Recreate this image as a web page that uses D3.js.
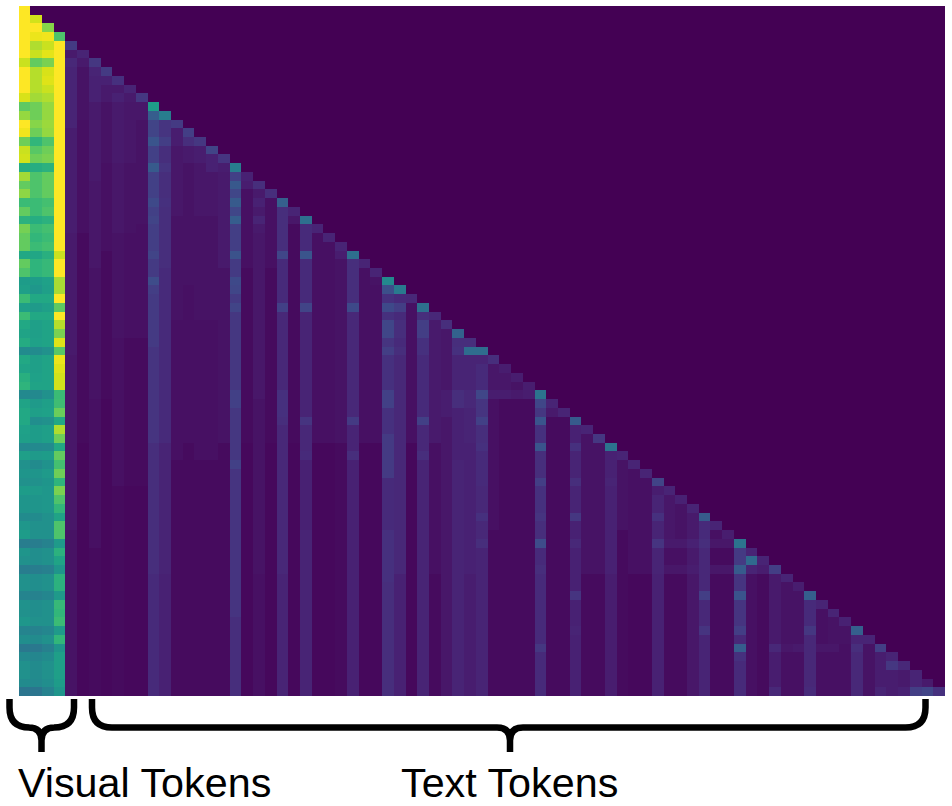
<!DOCTYPE html>
<html><head><meta charset="utf-8">
<script src="https://cdn.jsdelivr.net/npm/d3@7"></script>
<style>html,body{margin:0;padding:0;background:#fff}svg{display:block}</style>
</head><body><div id="chart"></div>
<script>
// Estimated attention values, in percent of the colour range.
const visual0 = [100,100,100,100,100,100,92,100,100,100,94,75,84,100,98,78,92,93,62,86,76,83,68,76,64,79,76,76,60,76,72,55,56,68,56,68,60,58,61,48,60,58,63,65,47,58,60,60,57,56,47,56,50,52,50,55,52,52,48,53,55,42,52,50,42,50,50,45,51,50,53,45,49,40,47,50,50,48,39];
const visual1 = [0,93,100,97,88,92,76,89,89,89,86,78,78,82,78,66,74,78,62,72,72,72,68,68,62,68,66,68,59,65,65,55,53,60,54,60,56,56,57,48,56,56,57,58,47,54,56,49,55,55,47,54,48,52,50,54,52,52,48,50,50,42,49,49,42,49,49,44,49,49,50,44,48,40,46,48,48,47,39];
const visual2 = [0,0,82,98,92,96,80,94,95,92,88,84,84,85,84,72,78,80,64,76,76,76,70,72,64,70,68,70,63,67,67,57,56,60,56,60,58,58,58,50,58,58,58,58,50,56,57,50,56,56,48,55,51,54,52,53,53,53,50,50,50,44,50,50,43,50,50,46,50,50,50,46,50,43,48,50,50,49,44];
const visual3 = [0,0,0,72,100,100,100,100,100,100,100,100,100,100,100,100,100,100,100,100,100,100,100,100,100,100,100,100,92,100,100,87,87,100,75,100,89,80,95,74,97,95,93,93,68,69,77,60,88,78,60,76,70,78,65,80,72,66,58,72,72,54,64,58,52,64,64,54,67,66,68,54,66,52,56,56,56,55,52];

// Text token columns: each list is pairs of [first row, value], a value holding until the next pair.
const textColumnRuns = [
 [4,17,5,7,6,11,7,10,14,8,26,7,40,6,60,5],
 [5,10,6,7,7,5,13,4,26,3,50,2],
 [6,16,7,10,8,9,11,7,20,6,30,5,45,4,62,3],
 [7,17,8,9,9,7,11,5,18,4,28,3,45,2],
 [8,14,9,7,10,9,11,7,18,6,26,5,38,4,55,3],
 [9,10,10,7,11,6,18,5,26,4,38,3,55,2],
 [10,16,11,6,13,5,25,4,38,3,55,2],
 [11,55,12,29,13,20,15,26,16,19,18,28,19,19,22,22,23,19,24,20,25,18,28,20,29,17,31,23,32,18,33,17,39,15,50,13,65,12],
 [12,42,13,15,15,18,16,13,18,15,19,13,22,14,23,13,30,12,50,10,65,9],
 [13,17,14,8,16,6,24,5,36,4,52,3],
 [14,18,15,13,16,7,18,5,32,4,50,3],
 [15,16,16,8,18,6,24,5,36,4,52,3],
 [16,20,17,9,19,6,24,5,36,4,52,3],
 [17,15,18,8,19,7,30,5,50,3],
 [18,42,19,19,20,27,21,21,22,28,23,21,24,29,25,18,28,25,29,17,31,22,32,21,33,17,34,20,35,16,44,19,46,16,52,19,53,15,70,13],
 [19,9,20,4,30,3,50,2],
 [20,13,21,7,22,8,23,7,26,6,45,5,65,4],
 [21,13,22,4,30,3,50,2],
 [22,30,23,13,28,21,29,12,34,19,35,11,44,14,47,13,48,11,65,10],
 [23,10,24,6,25,3,50,2],
 [24,36,25,12,28,26,29,12,34,20,35,10,47,15,48,11,51,12,52,9,60,10],
 [25,10,26,4,50,2],
 [26,10,27,4,50,2],
 [27,10,28,8,29,5,50,3],
 [28,36,29,13,34,22,35,11,47,17,48,10,51,13,52,9],
 [29,10,30,4,50,2],
 [30,10,31,5,32,4,50,2],
 [31,47,32,24,33,14,34,22,35,14,36,21,38,15,39,18,40,14,44,19,46,14,49,17,54,12,60,14,66,13],
 [32,41,33,12,34,18,35,12,36,13,38,12,39,13,40,11,65,9],
 [33,11,34,4,50,2],
 [34,36,35,13,36,18,38,14,39,14,40,12,47,19,48,11,51,13,52,10],
 [35,11,36,7,50,4,65,3],
 [36,13,37,6,44,8,47,6],
 [37,31,38,13,39,14,40,10,44,13,46,9,52,10],
 [38,13,39,35,40,10,44,11,46,10,50,9,65,8],
 [39,35,40,10,41,12,44,21,45,15,47,19,48,13,50,14,51,12,54,12,55,11,58,14,59,11,61,13,62,10,65,10],
 [40,13,41,6,44,8,45,4,60,3],
 [41,8,42,6,44,7,45,3],
 [42,8,43,5,44,7,45,3],
 [43,8,44,8,45,3],
 [44,38,45,21,46,16,47,26,48,14,50,26,51,13,54,18,55,14,58,15,59,13,61,23,62,12,64,13,65,12,73,16,74,12],
 [45,10,46,7,47,3],
 [46,10,47,3],
 [47,28,48,9,50,14,51,10,54,13,55,10,58,16,59,9,61,11,62,9,67,15,68,9,71,10,72,9],
 [48,10,49,5,65,3],
 [49,16,50,5,65,3],
 [50,38,51,9,54,10,55,9,65,8],
 [51,10,52,5,60,3],
 [52,10,53,4,65,2],
 [53,10,54,4,65,2],
 [54,20,55,8,56,10,58,14,59,10,61,15,62,10,65,9],
 [55,10,56,6,61,7,62,4,64,6,65,3],
 [56,9,57,5,61,7,62,4,64,6,65,3],
 [57,10,58,7,61,9,62,7,64,8,65,6],
 [58,28,59,12,61,13,62,11,67,18,68,11,71,15,72,10],
 [59,10,60,4,61,6,62,3],
 [60,8,61,6,62,3],
 [61,38,62,17,64,28,65,15,67,26,68,15,71,18,72,11,73,29,74,14,75,12],
 [62,10,63,34,64,10,65,4],
 [63,10,64,8,65,3],
 [64,18,65,7,73,11,74,8,78,11],
 [65,10,66,5,73,7,74,4],
 [66,8,67,5,73,6,74,4],
 [67,30,68,12,71,16,72,11,78,12],
 [68,10,69,4],
 [69,10,70,5,73,4],
 [70,9,71,5,73,4],
 [71,30,72,10,73,13,74,11],
 [72,10,73,5],
 [73,18,74,8,78,10],
 [74,10,75,16,76,8],
 [75,11,76,7],
 [76,10,78,18],
 [77,7,78,20],
 [78,14]
];

const axisIndex = d3.range(79);
const visualLabel = "Visual Tokens";
const textLabel = "Text Tokens";

const width = 952, height = 806;
const svg = d3.select("#chart").append("svg").attr("width", width).attr("height", height);

const x = d3.scaleBand().domain(axisIndex).range([18.5, 945]);
const y = d3.scaleBand().domain(axisIndex).range([6, 696]);
const color = d3.scaleSequential(d3.interpolateViridis).domain([0, 100]);

const visualColumns = [visual0, visual1, visual2, visual3];
const cells = [];
visualColumns.forEach((col, c) => col.forEach((v, r) => { if (r >= c) cells.push({r, c, v}); }));
textColumnRuns.forEach((runs, k) => {
  const c = k + 4;
  for (let i = 0; i < runs.length; i += 2) {
    const end = i + 2 < runs.length ? runs[i + 2] : axisIndex.length;
    for (let r = runs[i]; r < end; r++) cells.push({r, c, v: runs[i + 1]});
  }
});

// Row-specific accents sit on top of each column's level.
const accentCells = [
 [44,41,8],[44,42,7],[44,43,8],[64,55,6],[64,56,6],[64,57,8],[64,59,6],[64,60,6],
 [73,65,6],[73,66,7],[73,68,6],[73,69,6],[24,20,10],[22,20,9],[20,19,8],[78,75,9]
];
const index = new Map(cells.map(d => [d.r + "," + d.c, d]));
accentCells.forEach(([r, c, v]) => { const d = index.get(r + "," + c); if (d) d.v = v; });

const xEdge = i => Math.round(i < axisIndex.length ? x(i) : x.range()[1]);
const yEdge = i => Math.round(i < axisIndex.length ? y(i) : y.range()[1]);

const g = svg.append("g").attr("shape-rendering", "crispEdges");
g.append("rect")
  .attr("x", xEdge(0)).attr("y", yEdge(0))
  .attr("width", xEdge(79) - xEdge(0)).attr("height", yEdge(79) - yEdge(0))
  .attr("fill", color(0));
g.selectAll("rect.cell").data(cells).join("rect").attr("class", "cell")
  .attr("x", d => xEdge(d.c)).attr("y", d => yEdge(d.r))
  .attr("width", d => xEdge(d.c + 1) - xEdge(d.c))
  .attr("height", d => yEdge(d.r + 1) - yEdge(d.r))
  .attr("fill", d => color(d.v));

// Braces
function brace(x0, x1, tip) {
  const top = 699, mid = 727.5, bottom = 752, rad = 20, t = 13;
  const p = d3.path();
  p.moveTo(x0, top); p.lineTo(x0, mid - rad);
  p.quadraticCurveTo(x0, mid, x0 + rad, mid);
  p.lineTo(tip - t, mid);
  p.quadraticCurveTo(tip, mid, tip, mid + t);
  p.lineTo(tip, bottom);
  p.moveTo(x1, top); p.lineTo(x1, mid - rad);
  p.quadraticCurveTo(x1, mid, x1 - rad, mid);
  p.lineTo(tip + t, mid);
  p.quadraticCurveTo(tip, mid, tip, mid + t);
  return p.toString();
}
svg.selectAll("path.brace").data([[9.5, 74, 41.5], [92, 925.5, 510]]).join("path").attr("class", "brace")
  .attr("d", d => brace(d[0], d[1], d[2]))
  .attr("fill", "none").attr("stroke", "#000").attr("stroke-width", 6.5);

svg.selectAll("text.label").data([[18, visualLabel], [401, textLabel]]).join("text").attr("class", "label")
  .attr("x", d => d[0]).attr("y", 797)
  .attr("font-family", "'Liberation Sans', Arial, sans-serif").attr("font-size", 41.3)
  .attr("fill", "#000").text(d => d[1]);
</script>
</body></html>
